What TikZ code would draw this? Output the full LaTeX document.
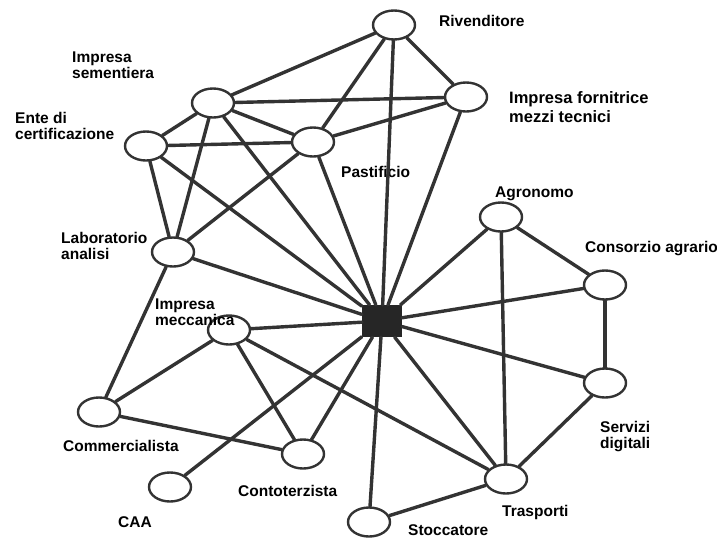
\documentclass[tikz,border=0pt]{standalone}
\usepackage{fontspec}
\setmainfont{Liberation Sans}
\usepackage{tikz}
\usetikzlibrary{shapes.geometric, positioning}

\tikzset{
	actor/.style={ellipse, draw=black!80, line width=2.4pt, minimum width=42pt, minimum height=29pt, inner sep=0pt},
	hub/.style={rectangle, fill=black!85, minimum width=40pt, minimum height=32pt, inner sep=0pt},
	link/.style={draw=black!80, line width=3.4pt},
	lbl/.style={anchor=north west, inner sep=0pt, align=left, font=\bfseries\fontsize{15.5}{16}\selectfont}
}

\begin{document}
\begin{tikzpicture}[x=1pt, y=-1pt, line join=round, line cap=round]
	\useasboundingbox (0,0) rectangle (717,539);
	
	% --- centre ---
	\node[hub] (hub) at (382,321) {};
	
	% --- actors ---
	\node[actor] (riv)  at (394,25)  {};
	\node[actor] (forn) at (466,97)  {};
	\node[actor] (sem)  at (213,103) {};
	\node[actor] (ente) at (146,146) {};
	\node[actor] (past) at (313,142) {};
	\node[actor] (lab)  at (173,252) {};
	\node[actor] (agr)  at (501,217) {};
	\node[actor] (cons) at (605,285) {};
	\node[actor] (serv) at (605,383) {};
	\node[actor] (mecc) at (229,330) {};
	\node[actor] (comm) at (99,412)  {};
	\node[actor] (cont) at (303,454) {};
	\node[actor] (caa)  at (170,487) {};
	\node[actor] (tras) at (506,479) {};
	\node[actor] (stoc) at (369,522) {};
	
	% --- labels ---
	\node[lbl] (l-riv)  at (439,15)  {Rivenditore};
	\node[lbl, font=\bfseries\fontsize{16.5}{19}\selectfont] (l-forn) at (509,91) {Impresa fornitrice\\mezzi tecnici};
	\node[lbl] (l-sem)  at (72,52)   {Impresa\\sementiera};
	\node[lbl] (l-ente) at (15,112)  {Ente di\\certificazione};
	\node[lbl] (l-past) at (341,166) {Pastificio};
	\node[lbl] (l-lab)  at (61,232)  {Laboratorio\\analisi};
	\node[lbl] (l-agr)  at (495,187) {Agronomo};
	\node[lbl] (l-cons) at (585,241) {Consorzio agrario};
	\node[lbl] (l-mecc) at (155,299) {Impresa\\meccanica};
	\node[lbl] (l-serv) at (600,421) {Servizi\\digitali};
	\node[lbl] (l-comm) at (63,440)  {Commercialista};
	\node[lbl] (l-cont) at (238,485) {Contoterzista};
	\node[lbl] (l-caa)  at (118,516) {CAA};
	\node[lbl] (l-tras) at (502,505) {Trasporti};
	\node[lbl] (l-stoc) at (408,524) {Stoccatore};
	
	% --- links to the centre ---
	\foreach \n in {riv,forn,sem,ente,past,lab,agr,cons,serv,mecc,cont,caa,tras,stoc}{
		\draw[link] (hub) -- (\n);
	}
	
	% --- other links ---
	\foreach \a/\b in {sem/riv, sem/forn, sem/past, sem/ente, sem/lab,
		ente/past, ente/lab, lab/past, lab/comm,
		past/riv, past/forn, riv/forn,
		agr/cons, agr/tras, cons/serv, serv/tras,
		tras/stoc, tras/mecc, mecc/comm, mecc/cont, comm/cont}{
		\draw[link] (\a) -- (\b);
	}
\end{tikzpicture}
\end{document}
